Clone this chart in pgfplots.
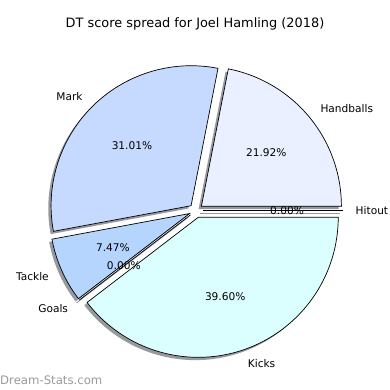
\documentclass[border=0pt]{standalone}
\usepackage{pgfplots}
\pgfplotsset{compat=1.18}
\usepackage{fontspec}
\setmainfont{DejaVu Sans}
\definecolor{cHand}{HTML}{EAF0FF}
\definecolor{cMark}{HTML}{C6D9FF}
\definecolor{cTack}{HTML}{B5D5FF}
\definecolor{cKick}{HTML}{DBFFFF}
\definecolor{shad}{RGB}{150,153,158}
\definecolor{wm}{HTML}{9A9A9A}
\newcommand\lf{\fontsize{10.6}{12.8}\selectfont}
\begin{document}
\begin{tikzpicture}
% data (percent of DT score)
\def\pHand{21.92}\def\pMark{31.01}\def\pTack{7.47}\def\pGoal{0.00}\def\pKick{39.60}\def\pHit{0.00}
\def\R{140}\def\ex{7}\def\cx{196}\def\cy{179.3}\def\so{2.8}
\pgfmathsetmacro\aA{0}
\pgfmathsetmacro\aB{\aA+3.6*\pHand}
\pgfmathsetmacro\aC{\aB+3.6*\pMark}
\pgfmathsetmacro\aD{\aC+3.6*\pTack}
\pgfmathsetmacro\aE{\aD+3.6*\pGoal}
\pgfmathsetmacro\aF{\aE+3.6*\pKick}
\pgfmathsetmacro\aG{\aF+3.6*\pHit}
% mid angles and exploded centres
\pgfmathsetmacro\mH{(\aA+\aB)/2}\pgfmathsetmacro\xH{\cx+\ex*cos(\mH)}\pgfmathsetmacro\yH{\cy+\ex*sin(\mH)}
\pgfmathsetmacro\mM{(\aB+\aC)/2}\pgfmathsetmacro\xM{\cx+\ex*cos(\mM)}\pgfmathsetmacro\yM{\cy+\ex*sin(\mM)}
\pgfmathsetmacro\mT{(\aC+\aD)/2}\pgfmathsetmacro\xT{\cx+\ex*cos(\mT)}\pgfmathsetmacro\yT{\cy+\ex*sin(\mT)}
\pgfmathsetmacro\mG{(\aD+\aE)/2}\pgfmathsetmacro\xG{\cx+\ex*cos(\mG)}\pgfmathsetmacro\yG{\cy+\ex*sin(\mG)}
\pgfmathsetmacro\mK{(\aE+\aF)/2}\pgfmathsetmacro\xK{\cx+\ex*cos(\mK)}\pgfmathsetmacro\yK{\cy+\ex*sin(\mK)}
\pgfmathsetmacro\mI{(\aF+\aG)/2}\pgfmathsetmacro\xI{\cx+\ex*cos(\mI)}\pgfmathsetmacro\yI{\cy+\ex*sin(\mI)}
% shadow centres
\pgfmathsetmacro\sxH{\xH-\so}\pgfmathsetmacro\syH{\yH-\so}
\pgfmathsetmacro\sxM{\xM-\so}\pgfmathsetmacro\syM{\yM-\so}
\pgfmathsetmacro\sxT{\xT-\so}\pgfmathsetmacro\syT{\yT-\so}
\pgfmathsetmacro\sxG{\xG-\so}\pgfmathsetmacro\syG{\yG-\so}
\pgfmathsetmacro\sxK{\xK-\so}\pgfmathsetmacro\syK{\yK-\so}
\pgfmathsetmacro\sxI{\xI-\so}\pgfmathsetmacro\syI{\yI-\so}
% ends of zero-width wedges
\pgfmathsetmacro\exG{\xG+\R*cos(\mG)}\pgfmathsetmacro\eyG{\yG+\R*sin(\mG)}
\pgfmathsetmacro\exI{\xI+\R*cos(\mI)}\pgfmathsetmacro\eyI{\yI+\R*sin(\mI)}
\pgfmathsetmacro\sexG{\exG-\so}\pgfmathsetmacro\seyG{\eyG-\so}
\pgfmathsetmacro\sexI{\exI-\so}\pgfmathsetmacro\seyI{\eyI-\so}
% label positions
\pgfmathsetmacro\lxH{\xH+154*cos(\mH)}\pgfmathsetmacro\lyH{\yH+154*sin(\mH)}
\pgfmathsetmacro\lxM{\xM+154*cos(\mM)}\pgfmathsetmacro\lyM{\yM+154*sin(\mM)}
\pgfmathsetmacro\lxT{\xT+154*cos(\mT)}\pgfmathsetmacro\lyT{\yT+154*sin(\mT)}
\pgfmathsetmacro\lxG{\xG+154*cos(\mG)}\pgfmathsetmacro\lyG{\yG+154*sin(\mG)}
\pgfmathsetmacro\lxK{\xK+154*cos(\mK)}\pgfmathsetmacro\lyK{\yK+154*sin(\mK)}
\pgfmathsetmacro\lxI{\xI+154*cos(\mI)-1.5}\pgfmathsetmacro\lyI{\yI+154*sin(\mI)}
\pgfmathsetmacro\pxH{\xH+84*cos(\mH)}\pgfmathsetmacro\pyH{\yH+84*sin(\mH)}
\pgfmathsetmacro\pxM{\xM+84*cos(\mM)}\pgfmathsetmacro\pyM{\yM+84*sin(\mM)}
\pgfmathsetmacro\pxT{\xT+84*cos(\mT)}\pgfmathsetmacro\pyT{\yT+84*sin(\mT)}
\pgfmathsetmacro\pxG{\xG+84*cos(\mG)}\pgfmathsetmacro\pyG{\yG+84*sin(\mG)}
\pgfmathsetmacro\pxK{\xK+84*cos(\mK)}\pgfmathsetmacro\pyK{\yK+84*sin(\mK)}
\pgfmathsetmacro\pxI{\xI+84*cos(\mI)}\pgfmathsetmacro\pyI{\yI+84*sin(\mI)}
\begin{axis}[
  width=390pt, height=390pt, scale only axis,
  xmin=0, xmax=390, ymin=0, ymax=390,
  hide axis, clip=false,
]
% shadows
\addplot[draw=none, fill=shad, domain=\aA:\aB, samples=90, variable=\t] ({\sxH+\R*cos(\t)},{\syH+\R*sin(\t)}) -- (axis cs:\sxH,\syH) -- cycle;
\addplot[draw=none, fill=shad, domain=\aB:\aC, samples=90, variable=\t] ({\sxM+\R*cos(\t)},{\syM+\R*sin(\t)}) -- (axis cs:\sxM,\syM) -- cycle;
\addplot[draw=none, fill=shad, domain=\aC:\aD, samples=40, variable=\t] ({\sxT+\R*cos(\t)},{\syT+\R*sin(\t)}) -- (axis cs:\sxT,\syT) -- cycle;
\addplot[draw=none, fill=shad, domain=\aE:\aF, samples=120, variable=\t] ({\sxK+\R*cos(\t)},{\syK+\R*sin(\t)}) -- (axis cs:\sxK,\syK) -- cycle;
\addplot[draw=shad, line width=0.8pt] coordinates {(\sxG,\syG) (\sexG,\seyG)};
\addplot[draw=shad, line width=0.8pt] coordinates {(\sxI,\syI) (\sexI,\seyI)};
% wedges
\addplot[draw=black, line width=0.7pt, fill=cHand, domain=\aA:\aB, samples=90, variable=\t] ({\xH+\R*cos(\t)},{\yH+\R*sin(\t)}) -- (axis cs:\xH,\yH) -- cycle;
\addplot[draw=black, line width=0.7pt, fill=cMark, domain=\aB:\aC, samples=90, variable=\t] ({\xM+\R*cos(\t)},{\yM+\R*sin(\t)}) -- (axis cs:\xM,\yM) -- cycle;
\addplot[draw=black, line width=0.7pt, fill=cTack, domain=\aC:\aD, samples=40, variable=\t] ({\xT+\R*cos(\t)},{\yT+\R*sin(\t)}) -- (axis cs:\xT,\yT) -- cycle;
\addplot[draw=black, line width=0.7pt, fill=cKick, domain=\aE:\aF, samples=120, variable=\t] ({\xK+\R*cos(\t)},{\yK+\R*sin(\t)}) -- (axis cs:\xK,\yK) -- cycle;
\addplot[draw=black, line width=0.7pt] coordinates {(\xG,\yG) (\exG,\eyG)};
\addplot[draw=black, line width=0.7pt] coordinates {(\xI,\yI) (\exI,\eyI)};
% labels
\begin{scope}[every node/.style={inner sep=0pt, font=\lf}]
\node[anchor=west] at (axis cs:\lxH,\lyH) {Handballs};
\node[anchor=east] at (axis cs:\lxM,\lyM) {Mark};
\node[anchor=east] at (axis cs:\lxT,\lyT) {Tackle};
\node[anchor=east] at (axis cs:\lxG,\lyG) {Goals};
\node[anchor=west] at (axis cs:\lxK,\lyK) {Kicks};
\node[anchor=west] at (axis cs:\lxI,\lyI) {Hitout};
\node at (axis cs:\pxH,\pyH) {21.92\%};
\node at (axis cs:\pxM,\pyM) {31.01\%};
\node at (axis cs:\pxT,\pyT) {7.47\%};
\node at (axis cs:\pxG,\pyG) {0.00\%};
\node at (axis cs:\pxK,\pyK) {39.60\%};
\node at (axis cs:\pxI,\pyI) {0.00\%};
\end{scope}
% title and watermark
\node[inner sep=0pt, font=\fontsize{12.9}{15}\selectfont] at (axis cs:195,366) {DT score spread for Joel Hamling (2018)};
\node[anchor=west, inner sep=0pt, text=wm, font=\fontsize{11.7}{14}\selectfont] at (axis cs:0,10) {Dream-Stats.com};
\end{axis}
\pgfresetboundingbox
\path (0,0) rectangle (390pt,390pt);
\end{tikzpicture}
\end{document}
